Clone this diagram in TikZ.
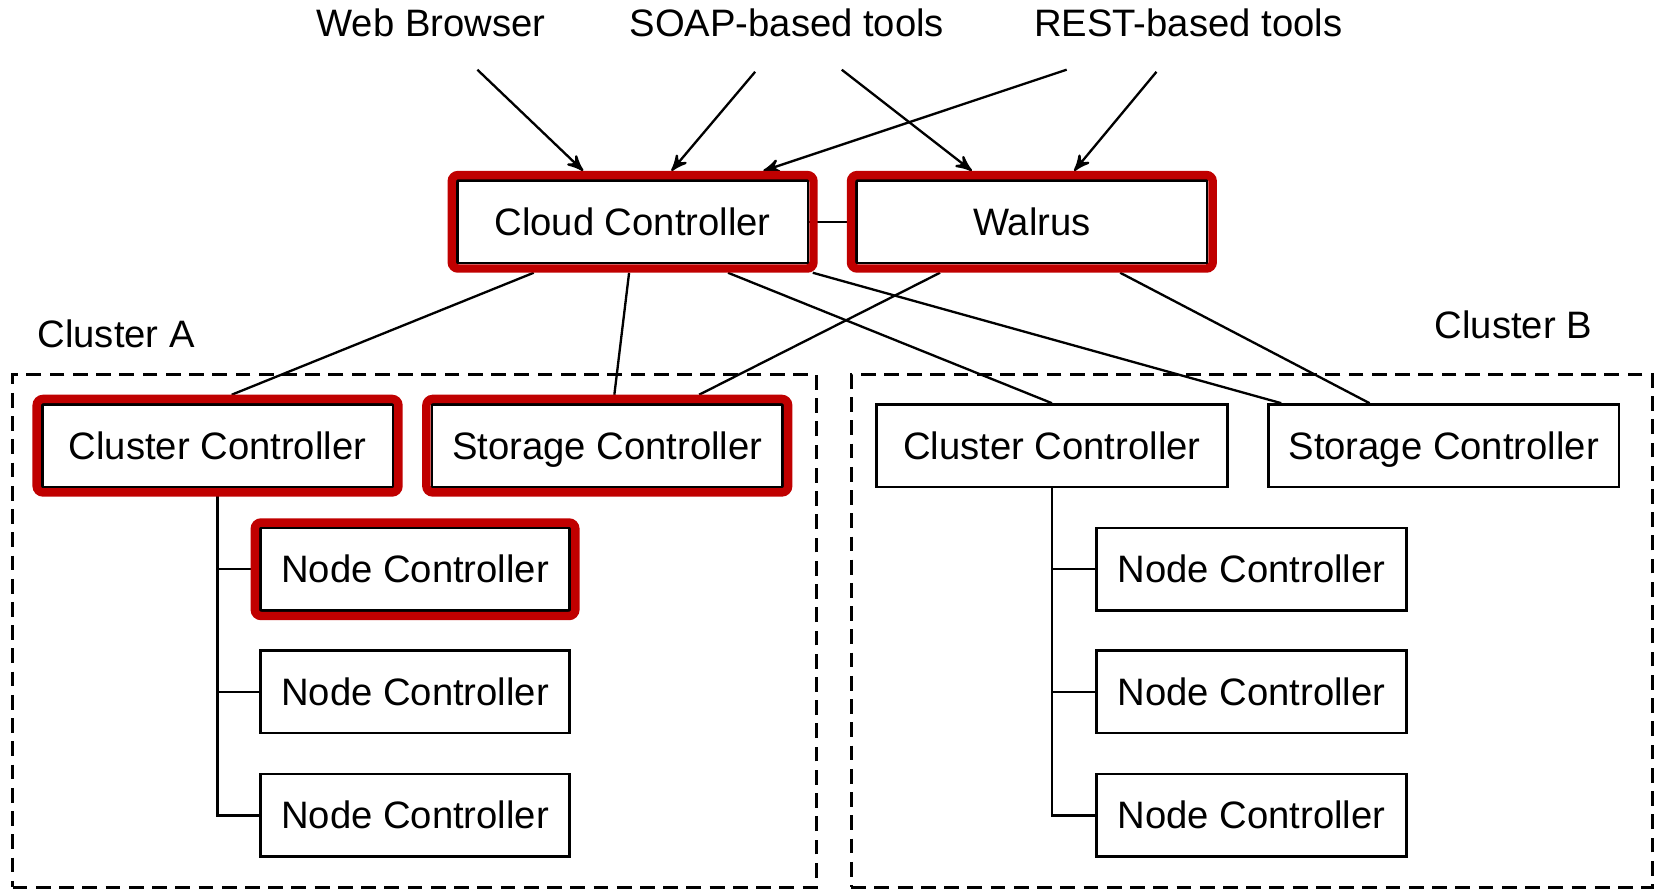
\documentclass[tikz,border=0pt]{standalone}
\usepackage{fontspec}
\setmainfont{Liberation Sans}
\usepackage{tikz}
\usetikzlibrary{arrows,positioning,calc}
\definecolor{hlred}{RGB}{192,0,0}

\begin{document}
\begin{tikzpicture}[>=stealth', semithick, font=\fontsize{10.3}{12}\selectfont,
   box/.style={draw, line width=0.25mm, minimum width=3.32cm, minimum height=0.78cm, inner sep=0pt,
     text height=0.72em, text depth=0pt},
   ncbox/.style={box, minimum width=2.93cm},
   cluster/.style={draw, dash pattern=on 1.4mm off 0.8mm, line width=0.28mm, inner sep=0pt},
   redframe/.style={draw=hlred, line width=0.8mm, rounded corners=0.6mm},
   link/.style={line width=0.22mm}]
  \useasboundingbox (0,0) rectangle (15.68,-8.43);

  % clients
  \node (web) at (4.08,-0.22) {Web Browser};
  \node (soap) at (7.45,-0.22) {SOAP-based tools};
  \node (rest) at (11.25,-0.22) {REST-based tools};
  \coordinate (web1) at (4.52,-0.66);
  \coordinate (soap1) at (7.15,-0.68);
  \coordinate (soap2) at (7.97,-0.66);
  \coordinate (rest1) at (10.10,-0.66);
  \coordinate (rest2) at (10.95,-0.68);

  % clusters
  \node[cluster, minimum width=7.61cm, minimum height=4.85cm] (clA) at (3.925,-5.975) {};
  \node[cluster, minimum width=7.59cm, minimum height=4.85cm] (clB) at (11.855,-5.975) {};
  \node (labA) at (1.10,-3.16) {Cluster A};
  \node (labB) at (14.33,-3.08) {Cluster B};

  \node[box] (cloud) at (5.99,-2.10) {Cloud Controller};
  \node[box] (walrus) at (9.77,-2.10) {Walrus};

  \node[box] (ccA) at (2.06,-4.22) {Cluster Controller};
  \node[box] (scA) at (5.75,-4.22) {Storage Controller};
  \node[box] (ccB) at (9.96,-4.22) {Cluster Controller};
  \node[box] (scB) at (13.67,-4.22) {Storage Controller};

  \node[ncbox] (ncA1) at (3.93,-5.39) {Node Controller};
  \node[ncbox] (ncA2) at (3.93,-6.55) {Node Controller};
  \node[ncbox] (ncA3) at (3.93,-7.72) {Node Controller};
  \node[ncbox] (ncB1) at (11.85,-5.39) {Node Controller};
  \node[ncbox] (ncB2) at (11.85,-6.55) {Node Controller};
  \node[ncbox] (ncB3) at (11.85,-7.72) {Node Controller};

  % requests
  \draw[->, link] (web1) -- ($(cloud.north west)!0.36!(cloud.north east)+(0,0.08)$);
  \draw[->, link] (soap1) -- ($(cloud.north west)!0.61!(cloud.north east)+(0,0.08)$);
  \draw[->, link] (rest1) -- ($(cloud.north west)!0.87!(cloud.north east)+(0,0.08)$);
  \draw[->, link] (soap2) -- ($(walrus.north west)!0.33!(walrus.north east)+(0,0.08)$);
  \draw[->, link] (rest2) -- ($(walrus.north west)!0.62!(walrus.north east)+(0,0.08)$);

  \draw[link] (cloud) -- (walrus);
  \draw[link] ($(cloud.south west)!0.22!(cloud.south east)+(0,-0.08)$) -- ($(ccA.north west)!0.54!(ccA.north east)+(0,0.08)$);
  \draw[link] ($(cloud.south west)!0.49!(cloud.south east)+(0,-0.08)$) -- ($(scA.north west)!0.52!(scA.north east)+(0,0.08)$);
  \draw[link] ($(cloud.south west)!0.77!(cloud.south east)+(0,-0.08)$) -- ($(ccB.north west)!0.5!(ccB.north east)$);
  \draw[link] ($(cloud.south west)!1.01!(cloud.south east)+(0,-0.08)$) -- ($(scB.north west)!0.04!(scB.north east)$);
  \draw[link] ($(walrus.south west)!0.24!(walrus.south east)+(0,-0.08)$) -- ($(scA.north west)!0.76!(scA.north east)+(0,0.08)$);
  \draw[link] ($(walrus.south west)!0.75!(walrus.south east)+(0,-0.08)$) -- ($(scB.north west)!0.29!(scB.north east)$);

  % node controllers
  \foreach \n in {1,2,3} {
    \draw[link] (ccA.south) |- (ncA\n.west);
    \draw[link] (ccB.south) |- (ncB\n.west);
  }

  % highlighted parts
  \foreach \n in {cloud,walrus,ccA,scA,ncA1}
    \draw[redframe] ([xshift=-0.4mm,yshift=0.4mm]\n.north west) rectangle ([xshift=0.4mm,yshift=-0.4mm]\n.south east);
\end{tikzpicture}
\end{document}
